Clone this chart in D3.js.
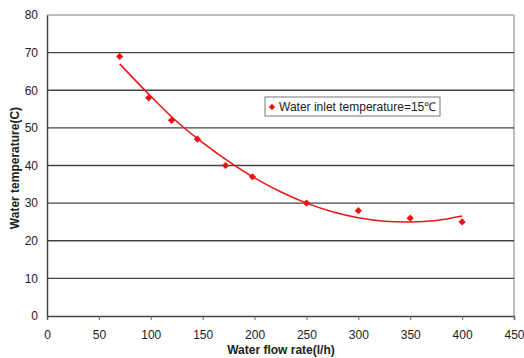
<!DOCTYPE html>
<html>
<head>
<meta charset="utf-8">
<script src="https://cdn.jsdelivr.net/npm/d3@7"></script>
<style>
  body { margin: 0; background: #fff; }
  text { font-family: "Liberation Sans", Arial, sans-serif; fill: #222; }
</style>
</head>
<body>
<svg id="chart" width="524" height="358"></svg>
<script>
// measured points
const flowRates = [70, 98, 120, 145, 172, 198, 250, 300, 350, 400];
const waterTemps = [69, 58, 52, 47, 40, 37, 30, 28, 26, 25];

// trend line
const trendFlow = [70, 100, 125, 150, 175, 200, 225, 250, 275, 300, 325, 350, 375, 400];
const trendTemp = [67.0, 58.4, 51.7, 46.1, 41.1, 36.7, 33.0, 30.0, 27.7, 26.1, 25.2, 25.0, 25.4, 26.6];

const xTicks = [0, 50, 100, 150, 200, 250, 300, 350, 400, 450];
const yTicks = [0, 10, 20, 30, 40, 50, 60, 70, 80];

const legendLabel = "Water inlet temperature=15\u2103";
const xTitle = "Water flow rate(l/h)";
const yTitle = "Water temperature(C)";

const svg = d3.select("#chart");
const plotL = 47, plotR = 514, plotT = 15, plotB = 316;

const x = d3.scaleLinear().domain([0, 450]).range([plotL, plotR]);
const y = d3.scaleLinear().domain([0, 80]).range([plotB, plotT]);

// plot frame (light gray top / right)
svg.append("line").attr("x1", plotL).attr("x2", plotR).attr("y1", plotT).attr("y2", plotT)
  .attr("stroke", "#aaa").attr("stroke-width", 1.5);
svg.append("line").attr("x1", plotR).attr("x2", plotR).attr("y1", plotT).attr("y2", plotB)
  .attr("stroke", "#aaa").attr("stroke-width", 1.5);

// gridlines
svg.selectAll(".grid")
  .data(yTicks.filter(d => d > 0 && d < 80))
  .enter().append("line")
  .attr("x1", plotL).attr("x2", plotR)
  .attr("y1", d => y(d)).attr("y2", d => y(d))
  .attr("stroke", "#444").attr("stroke-width", 1.3);

// axes
const xAxis = svg.append("g").attr("transform", `translate(0,${plotB})`)
  .call(d3.axisBottom(x).tickValues(xTicks).tickSize(4).tickPadding(10));
const yAxis = svg.append("g").attr("transform", `translate(${plotL},0)`)
  .call(d3.axisLeft(y).tickValues(yTicks).tickSize(0).tickPadding(9));
[xAxis, yAxis].forEach(g => {
  g.select(".domain").attr("stroke", "#444").attr("stroke-width", 1.5);
  g.selectAll(".tick line").attr("stroke", "#666");
  g.selectAll("text").attr("font-size", 12).attr("fill", "#333")
    .attr("font-family", "'Liberation Sans Narrow', 'Liberation Sans', sans-serif");
});

// trend curve
const line = d3.line()
  .x((d, i) => x(trendFlow[i]))
  .y(d => y(d))
  .curve(d3.curveCatmullRom);
svg.append("path").datum(trendTemp)
  .attr("d", line)
  .attr("fill", "none")
  .attr("stroke", "#e81818")
  .attr("stroke-width", 1.6);

// diamond markers (square turned 45deg)
const diamond = d3.symbol().type(d3.symbolSquare).size(26);
svg.selectAll(".pt")
  .data(flowRates)
  .enter().append("path")
  .attr("d", diamond)
  .attr("transform", (d, i) => `translate(${x(d)},${y(waterTemps[i])}) rotate(45)`)
  .attr("fill", "#ee1111");

// legend
const lg = svg.append("g").attr("transform", "translate(265,97)");
lg.append("rect").attr("width", 175).attr("height", 19)
  .attr("fill", "#fff").attr("stroke", "#777").attr("stroke-width", 1);
lg.append("path").attr("d", d3.symbol().type(d3.symbolSquare).size(20))
  .attr("transform", "translate(7,10) rotate(45)").attr("fill", "#ee1111");
lg.append("text").attr("x", 14).attr("y", 14)
  .attr("font-size", 12)
  .attr("font-family", "'Liberation Sans Narrow', 'Liberation Sans', sans-serif")
  .text(legendLabel);

// axis titles
svg.append("text").attr("x", 281).attr("y", 354)
  .attr("text-anchor", "middle").attr("font-size", 12).attr("font-weight", "bold")
  .attr("fill", "#333")
  .text(xTitle);
svg.append("text")
  .attr("transform", "translate(19,168) rotate(-90)")
  .attr("text-anchor", "middle").attr("font-size", 12).attr("font-weight", "bold")
  .attr("fill", "#333")
  .text(yTitle);
</script>
</body>
</html>
